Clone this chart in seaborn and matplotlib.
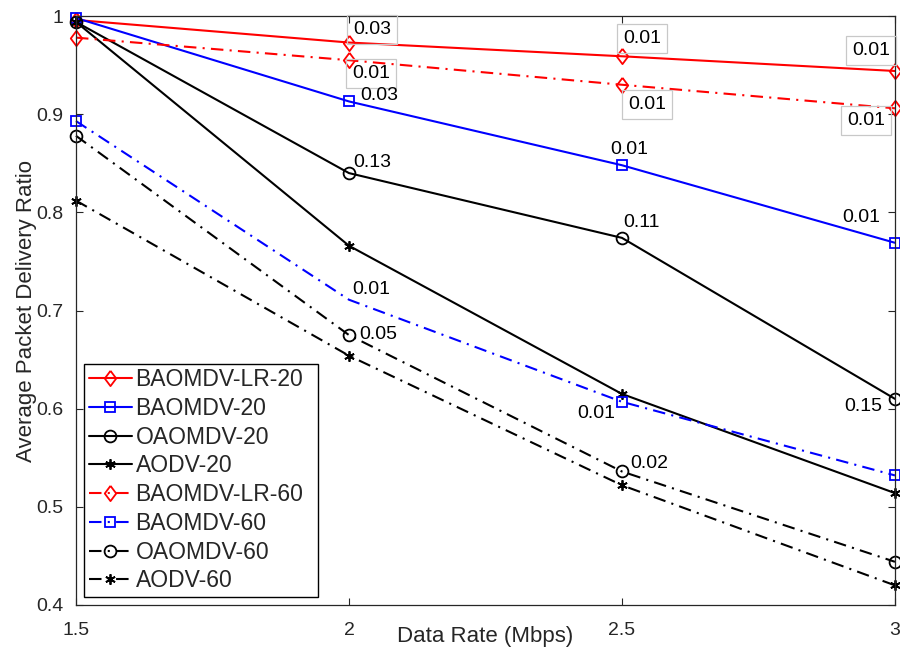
import matplotlib
matplotlib.use("Agg")
import matplotlib.pyplot as plt
from matplotlib.ticker import FuncFormatter, FixedLocator
import seaborn as sns

# Data rate (Mbps) on the x axis
data_rate = [1.5, 2.0, 2.5, 3.0]

# Average packet delivery ratio per protocol (20 and 60 nodes)
baomdv_lr_20 = [0.996, 0.973, 0.959, 0.944]
baomdv_20 = [0.998, 0.913, 0.848, 0.769]
oaomdv_20 = [0.994, 0.840, 0.774, 0.610]
aodv_20 = [0.994, 0.766, 0.615, 0.514]
baomdv_lr_60 = [0.978, 0.955, 0.930, 0.906]
baomdv_60 = [0.893, 0.711, 0.607, 0.532]
oaomdv_60 = [0.878, 0.675, 0.536, 0.444]
aodv_60 = [0.812, 0.654, 0.522, 0.420]

series_names = ["BAOMDV-LR-20", "BAOMDV-20", "OAOMDV-20", "AODV-20",
                "BAOMDV-LR-60", "BAOMDV-60", "OAOMDV-60", "AODV-60"]
series_values = [baomdv_lr_20, baomdv_20, oaomdv_20, aodv_20,
                 baomdv_lr_60, baomdv_60, oaomdv_60, aodv_60]

# Value labels attached to points: (series, x, text)
label_series = ["BAOMDV-LR-20", "BAOMDV-LR-60", "BAOMDV-20", "OAOMDV-20",
                "BAOMDV-LR-20", "BAOMDV-LR-60", "BAOMDV-20", "OAOMDV-20",
                "BAOMDV-LR-20", "BAOMDV-LR-60", "BAOMDV-20", "OAOMDV-20",
                "BAOMDV-60", "OAOMDV-60", "BAOMDV-60", "OAOMDV-60"]
label_x = [2.0, 2.0, 2.0, 2.0,
           2.5, 2.5, 2.5, 2.5,
           3.0, 3.0, 3.0, 3.0,
           2.0, 2.0, 2.5, 2.5]
label_text = ["0.03", "0.01", "0.03", "0.13",
              "0.01", "0.01", "0.01", "0.11",
              "0.01", "0.01", "0.01", "0.15",
              "0.01", "0.05", "0.01", "0.02"]

# Label placement: pixel offset from the point, alignment, boxed or not
label_offset = [(4, 13), (3, -13.5), (11, 6), (4, 11),
                (1, 17.5), (6, -20), (7.5, 16), (1, 15),
                (-5, 20.7), (-10, -12), (-15, 25), (-13, -8),
                (3, 10), (10, 1), (-7, -11.5), (8, 8)]
label_ha = ["left", "left", "left", "left",
            "left", "left", "center", "left",
            "right", "right", "right", "right",
            "left", "left", "right", "left"]
label_boxed = [True, True, False, False,
               True, True, False, False,
               True, True, False, False,
               False, False, False, False]

sns.set_theme(style="ticks")
plt.rcParams["font.family"] = ["Liberation Sans", "DejaVu Sans"]

ink = "#262626"
RED, BLUE, BLACK = "#ff0000", "#0000ff", "#000000"
diamond = [(0, 1), (0.75, 0), (0, -1), (-0.75, 0), (0, 1)]
asterisk = (6, 2, 0)
dashdot = (0, (6, 3, 1, 3))

styles = {
    "BAOMDV-LR-20": dict(color=RED, marker=diamond, ms=11, ls="-"),
    "BAOMDV-20": dict(color=BLUE, marker="s", ms=7.5, ls="-"),
    "OAOMDV-20": dict(color=BLACK, marker="o", ms=8.5, ls="-"),
    "AODV-20": dict(color=BLACK, marker=asterisk, ms=7.5, ls="-"),
    "BAOMDV-LR-60": dict(color=RED, marker=diamond, ms=11, ls=dashdot),
    "BAOMDV-60": dict(color=BLUE, marker="s", ms=7.5, ls=dashdot),
    "OAOMDV-60": dict(color=BLACK, marker="o", ms=8.5, ls=dashdot),
    "AODV-60": dict(color=BLACK, marker=asterisk, ms=7.5, ls=dashdot),
}
# The 60-node BAOMDV curve carries no marker at 2 Mbps
mark_every = {"BAOMDV-60": [0, 2, 3]}

fig = plt.figure(figsize=(9.0, 6.49), dpi=100)
ax = fig.add_axes([0.0844, 0.0678, 0.9100, 0.9075])

for name, vals in zip(series_names, series_values):
    st = styles[name]
    sns.lineplot(x=data_rate, y=vals, ax=ax, label=name,
                 color=st["color"], linestyle=st["ls"], linewidth=1.5,
                 marker=st["marker"], markersize=st["ms"],
                 markerfacecolor="none", markeredgecolor=st["color"],
                 markeredgewidth=1.3, markevery=mark_every.get(name, None),
                 legend=False, clip_on=False)

lookup = dict(zip(series_names, series_values))
for s, xv, txt, off, ha, boxed in zip(label_series, label_x, label_text,
                                      label_offset, label_ha, label_boxed):
    yv = lookup[s][data_rate.index(xv)]
    bbox = None
    if boxed:
        bbox = dict(boxstyle="square,pad=0.3", fc="none", ec="#c8c8c8", lw=0.9)
    ax.annotate(txt, xy=(xv, yv), xytext=off, textcoords="offset pixels",
                ha=ha, va="center", fontsize=14, color=BLACK,
                bbox=bbox, annotation_clip=False, zorder=5)

ax.set_xlim(1.5, 3.0)
ax.set_ylim(0.4, 1.0)
ax.xaxis.set_major_locator(FixedLocator([1.5, 2.0, 2.5, 3.0]))
ax.yaxis.set_major_locator(FixedLocator([0.4, 0.5, 0.6, 0.7, 0.8, 0.9, 1.0]))
fmt = FuncFormatter(lambda v, p: f"{v:g}")
ax.xaxis.set_major_formatter(fmt)
ax.yaxis.set_major_formatter(fmt)
ax.tick_params(direction="in", length=5, width=0.8, colors=ink,
               labelsize=14, top=True, right=True)
ax.tick_params(axis="y", pad=9)
ax.tick_params(axis="x", pad=12)
for sp in ax.spines.values():
    sp.set_color(ink)
    sp.set_linewidth(0.9)

ax.set_xlabel("Data Rate (Mbps)", fontsize=16, color=ink)
ax.set_ylabel("Average Packet Delivery Ratio", fontsize=16, color=ink)
ax.xaxis.set_label_coords(0.5, -0.036)
ax.yaxis.set_label_coords(-0.047, 0.5)

# Legend box spans a fixed width in the lower-left corner
leg = ax.legend(loc="lower left", bbox_to_anchor=(0.0098, 0.0136, 0.2857, 0.3),
                mode="expand", borderaxespad=0, fontsize=16.5, frameon=True,
                fancybox=False, framealpha=1, edgecolor=BLACK, handlelength=1.9,
                handletextpad=0.15, labelspacing=0.25, borderpad=0.2)
leg.get_frame().set_linewidth(1.0)

fig.savefig("out.png", dpi=100, facecolor="white")
